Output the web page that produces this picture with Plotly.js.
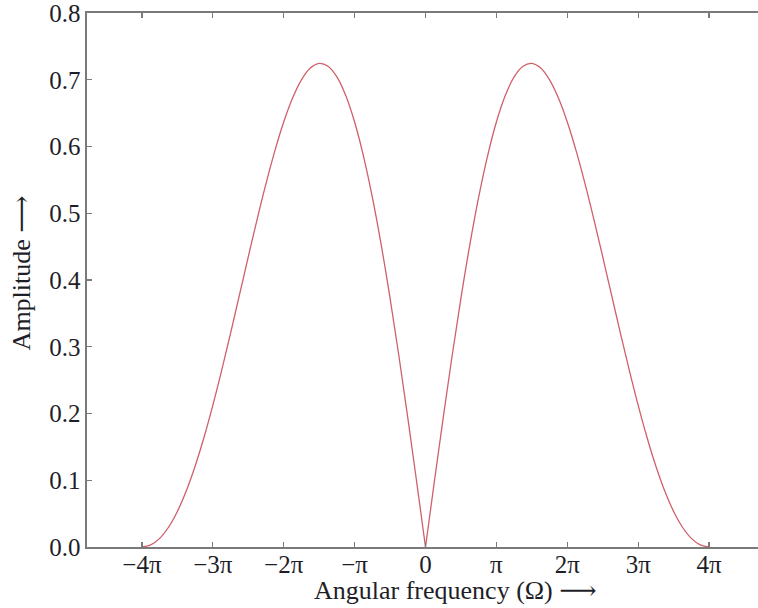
<!DOCTYPE html>
<html>
<head>
<meta charset="utf-8">
<script src="https://cdn.plot.ly/plotly-3.0.1.min.js"></script>
<style>
html,body{margin:0;padding:0;overflow:hidden;background:#fff;}
#chart{width:765px;height:608px;}
</style>
</head>
<body>
<div id="chart"></div>
<script>
// Angular frequency in multiples of pi
const omegaOverPi = [
  -4,-3.875,-3.75,-3.625,-3.5,-3.375,-3.25,-3.125,
  -3,-2.875,-2.75,-2.625,-2.5,-2.375,-2.25,-2.125,
  -2,-1.875,-1.75,-1.625,-1.5,-1.375,-1.25,-1.125,
  -1,-0.875,-0.75,-0.625,-0.5,-0.375,-0.25,-0.125,
  0,
  0.125,0.25,0.375,0.5,0.625,0.75,0.875,1,
  1.125,1.25,1.375,1.5,1.625,1.75,1.875,2,
  2.125,2.25,2.375,2.5,2.625,2.75,2.875,3,
  3.125,3.25,3.375,3.5,3.625,3.75,3.875,4
];
const amplitude = [
  0,0.00316,0.01292,0.02960,0.05327,0.08383,0.12092,0.16398,
  0.21221,0.26463,0.32009,0.37726,0.43471,0.49093,0.54435,0.59342,
  0.63662,0.67254,0.69987,0.71751,0.72452,0.72022,0.70420,0.67629,
  0.63662,0.58563,0.52399,0.45270,0.37293,0.28611,0.19384,0.09786,
  0,
  0.09786,0.19384,0.28611,0.37293,0.45270,0.52399,0.58563,0.63662,
  0.67629,0.70420,0.72022,0.72452,0.71751,0.69987,0.67254,0.63662,
  0.59342,0.54435,0.49093,0.43471,0.37726,0.32009,0.26463,0.21221,
  0.16398,0.12092,0.08383,0.05327,0.02960,0.01292,0.00316,0
];
const xTickVals = [-4,-3,-2,-1,0,1,2,3,4];
const xTickText = ['\u22124\u03c0','\u22123\u03c0','\u22122\u03c0','\u2212\u03c0','0','\u03c0','2\u03c0','3\u03c0','4\u03c0'];
const yTickVals = [0,0.1,0.2,0.3,0.4,0.5,0.6,0.7,0.8];
const yTickText = ['0.0','0.1','0.2','0.3','0.4','0.5','0.6','0.7','0.8'];
const xTitle = 'Angular frequency (\u03a9) \u27f6';
const yTitle = 'Amplitude \u27f6';

const fontFam = '"Liberation Serif", "DejaVu Serif", serif';
const textColor = '#1e1e28';
const axisCommon = {
  showline: true, linecolor: '#7a7a7a', linewidth: 1.6, mirror: 'ticks',
  ticks: 'inside', ticklen: 5, tickwidth: 1.2, tickcolor: '#7a7a7a',
  showgrid: false, zeroline: false, ticklabeloverflow: 'allow',
  tickfont: {family: fontFam, size: 25, color: textColor}
};

// split at Omega = 0 so the cusp stays sharp while each lobe is smooth
const mid = omegaOverPi.indexOf(0);
const lineStyle = {color: '#cf6069', width: 1.3, shape: 'spline', smoothing: 1};
const traces = [
  {x: omegaOverPi.slice(0, mid + 1), y: amplitude.slice(0, mid + 1),
   type: 'scatter', mode: 'lines', line: lineStyle, hoverinfo: 'skip'},
  {x: omegaOverPi.slice(mid), y: amplitude.slice(mid),
   type: 'scatter', mode: 'lines', line: lineStyle, hoverinfo: 'skip'}
];

const layout = {
  width: 765, height: 608,
  margin: {l: 87, r: 1, t: 13, b: 61},
  paper_bgcolor: '#fff', plot_bgcolor: '#fff',
  showlegend: false,
  xaxis: Object.assign({}, axisCommon, {
    range: [-15/Math.PI, 15/Math.PI],
    tickmode: 'array', tickvals: xTickVals, ticktext: xTickText,
    ticklabelstandoff: -6
  }),
  yaxis: Object.assign({}, axisCommon, {
    range: [0, 0.8],
    tickmode: 'array', tickvals: yTickVals, ticktext: yTickText
  }),
  annotations: [
    {text: xTitle, xref: 'paper', yref: 'paper', x: 0.545, y: -0.081,
     xanchor: 'center', yanchor: 'middle', showarrow: false,
     font: {family: fontFam, size: 26, color: textColor}},
    {text: yTitle, xref: 'paper', yref: 'paper', x: -0.097, y: 0.513,
     xanchor: 'center', yanchor: 'middle', showarrow: false, textangle: -90,
     font: {family: fontFam, size: 26, color: textColor}}
  ]
};

Plotly.newPlot('chart', traces, layout, {displayModeBar: false, staticPlot: true});
</script>
</body>
</html>
